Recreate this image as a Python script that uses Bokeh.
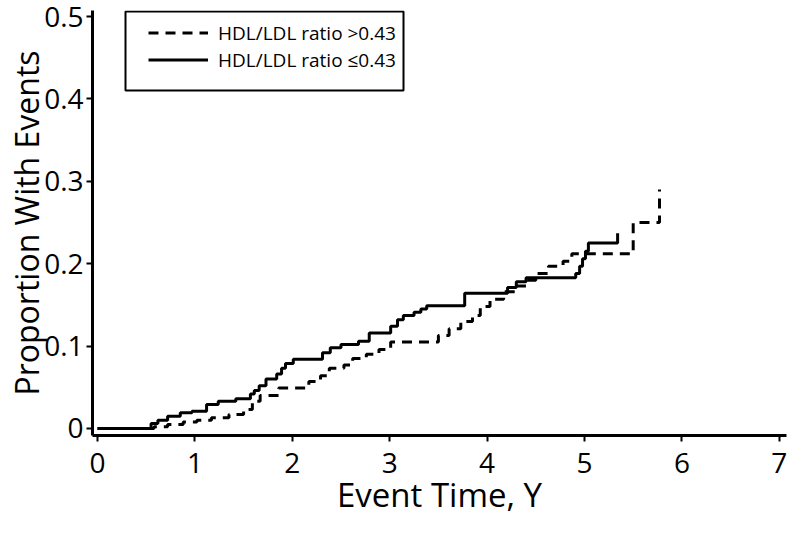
from bokeh.plotting import figure
from bokeh.models import (ColumnDataSource, Range1d, FixedTicker, Legend, LegendItem,
                          BoxAnnotation)
from bokeh.embed import file_html
from bokeh.resources import INLINE

# ---- data ----
le_time = [0, 0.55, 0.62, 0.72, 0.85, 0.97, 1.12, 1.24, 1.42, 1.57, 1.61, 1.66, 1.73, 1.84,
           1.89, 1.93, 2.01, 2.31, 2.39, 2.50, 2.68, 2.79, 3.01, 3.08, 3.14, 3.25, 3.32, 3.38,
           3.77, 4.21, 4.30, 4.40, 4.91, 4.95, 4.98, 5.01, 5.04, 5.34]
le_prop = [0, 0.006, 0.010, 0.015, 0.019, 0.021, 0.029, 0.033, 0.036, 0.042, 0.046, 0.052, 0.060, 0.066,
           0.073, 0.079, 0.084, 0.092, 0.098, 0.102, 0.106, 0.116, 0.124, 0.132, 0.137, 0.141, 0.145, 0.149,
           0.164, 0.171, 0.178, 0.183, 0.188, 0.197, 0.206, 0.215, 0.225, 0.237]

gt_time = [0, 0.58, 0.72, 0.88, 1.02, 1.17, 1.35, 1.50, 1.59, 1.67, 1.86, 2.17, 2.29, 2.38, 2.53,
           2.62, 2.76, 2.89, 3.01, 3.50, 3.61, 3.73, 3.85, 3.93, 4.03, 4.17, 4.30, 4.40, 4.50,
           4.63, 4.78, 4.87, 5.50, 5.77]
gt_prop = [0, 0.002, 0.005, 0.008, 0.010, 0.013, 0.017, 0.023, 0.033, 0.040, 0.049, 0.057, 0.064, 0.073, 0.077,
           0.085, 0.090, 0.096, 0.105, 0.113, 0.121, 0.130, 0.137, 0.148, 0.157, 0.166, 0.173, 0.180, 0.188,
           0.197, 0.203, 0.212, 0.250, 0.290]

x_ticks = [0, 1, 2, 3, 4, 5, 6, 7]
y_ticks = [0, 0.1, 0.2, 0.3, 0.4, 0.5]
y_tick_labels = ["0", "0.1", "0.2", "0.3", "0.4", "0.5"]

label_gt = "HDL/LDL ratio >0.43"
label_le = "HDL/LDL ratio \u22640.43"
x_title = "Event Time, Y"
y_title = "Proportion With Events"

FONT = "'Open Sans', 'Noto Sans', sans-serif"

p = figure(width=788, height=530, output_backend="svg", toolbar_location=None,
           x_range=Range1d(-0.0513, 7.074), y_range=Range1d(-0.0085, 0.50728),
           min_border_left=92, min_border_right=2, min_border_top=10, min_border_bottom=95,
           background_fill_color="white", border_fill_color="white")
p.outline_line_color = None
p.xgrid.visible = False
p.ygrid.visible = False

src_gt = ColumnDataSource(dict(t=gt_time, v=gt_prop))
src_le = ColumnDataSource(dict(t=le_time, v=le_prop))

r_gt = p.step(x="t", y="v", source=src_gt, mode="after", line_color="black",
              line_width=3, line_dash="10 7")
r_le = p.step(x="t", y="v", source=src_le, mode="after", line_color="black", line_width=3)

for ax in (p.xaxis[0], p.yaxis[0]):
    ax.axis_line_width = 3
    ax.axis_line_color = "black"
    ax.major_tick_line_width = 2
    ax.major_tick_line_color = "black"
    ax.major_tick_out = 6
    ax.major_tick_in = 0
    ax.minor_tick_line_color = None
    ax.major_label_text_font = FONT
    ax.major_label_text_font_size = "28px"
    ax.major_label_text_color = "black"
    ax.axis_label_text_font = FONT
    ax.axis_label_text_font_style = "normal"
    ax.axis_label_text_color = "black"

p.xaxis[0].ticker = FixedTicker(ticks=x_ticks)
p.yaxis[0].ticker = FixedTicker(ticks=y_ticks)
p.yaxis[0].major_label_overrides = dict(zip(y_ticks, y_tick_labels))
p.xaxis[0].axis_label = x_title
p.yaxis[0].axis_label = y_title
p.xaxis[0].axis_label_text_font_size = "33px"
p.yaxis[0].axis_label_text_font_size = "32px"
p.yaxis[0].axis_label_text_line_height = 1.0
p.xaxis[0].major_label_standoff = 11
p.xaxis[0].axis_label_standoff = -4
p.yaxis[0].major_label_standoff = 3
p.yaxis[0].axis_label_standoff = -7

# legend frame
box = BoxAnnotation(left=33, right=311, top=424, bottom=345,
                    left_units="screen", right_units="screen",
                    top_units="screen", bottom_units="screen",
                    fill_alpha=0, line_color="black", line_alpha=1.0, line_width=2)
p.add_layout(box)

legend = Legend(items=[LegendItem(label=label_gt, renderers=[r_gt]),
                       LegendItem(label=label_le, renderers=[r_le])],
                location=(56, 362), padding=0, margin=0,
                border_line_alpha=0, background_fill_alpha=0,
                glyph_width=60, glyph_height=27, label_height=27, spacing=0,
                label_standoff=10, label_text_font=FONT, label_text_font_size="19px",
                label_text_color="black")
p.add_layout(legend)

open("out.html", "w").write(file_html(p, INLINE))
